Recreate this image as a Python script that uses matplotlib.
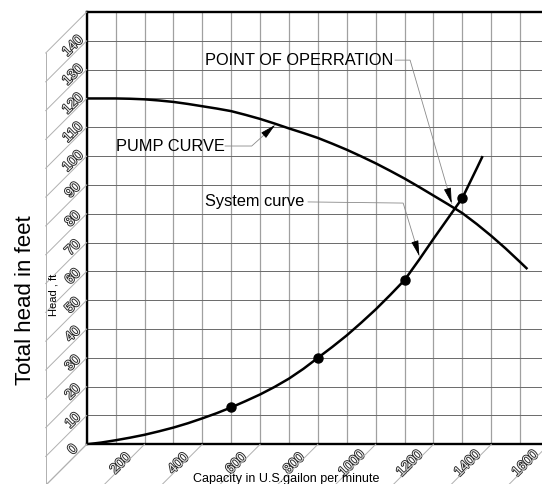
from matplotlib import pyplot as plt
from matplotlib.lines import Line2D
from matplotlib.patches import FancyArrowPatch
from matplotlib.transforms import IdentityTransform
import matplotlib.patheffects as pe

plt.rcParams['font.family'] = ['Liberation Sans', 'DejaVu Sans']

# pump curve (gpm, ft)
pump_q = [0, 50, 100, 150, 200, 250, 300, 350, 400, 450, 500, 550, 600, 650, 700, 750, 800,
          850, 900, 950, 1000, 1050, 1100, 1150, 1200, 1250, 1300, 1350, 1400, 1450, 1500, 1525]
pump_h = [120, 120, 120, 119.9, 119.7, 119.3, 118.8, 118.1, 117.3, 116.5, 115.6, 114.3, 112.9, 111.3,
          109.6, 108.0, 106.3, 104.3, 102.2, 99.9, 97.5, 94.9, 92.2, 89.3, 86.3, 83.3, 80.2, 76.4,
          72.3, 67.9, 63.2, 60.8]

# system curve
sys_q = [0, 50, 100, 150, 200, 250, 300, 350, 400, 450, 500, 550, 600, 650, 700, 750, 800,
         850, 900, 950, 1000, 1050, 1100, 1150, 1200, 1250, 1300, 1350, 1370]
sys_h = [0, 0.6, 1.4, 2.3, 3.3, 4.5, 5.8, 7.3, 9.0, 10.8, 12.8, 15.0, 17.3, 19.9, 22.8, 26.2, 30.0,
         33.8, 37.8, 42.2, 46.8, 51.8, 57.0, 64.0, 71.3, 78.4, 85.5, 95.8, 100]

# measured points on the system curve
pt_q = [500, 800, 1100, 1300]
pt_h = [12.8, 30.0, 57.0, 85.5]

x_labels = [200, 400, 600, 800, 1000, 1200, 1400, 1600]
y_labels = list(range(0, 150, 10))

fig = plt.figure(figsize=(5.42, 4.84), dpi=100)
ax = fig.add_axes([86.7 / 542, 39.7 / 484, 462.4 / 542, 432.3 / 484])
ax.set_xlim(0, 1600)
ax.set_ylim(0, 150)

for q in range(0, 1601, 100):
    ax.axvline(q, color='#a0a0a0', lw=0.9, zorder=1)
for h in range(0, 151, 10):
    ax.axhline(h, color='#6a6a6a', lw=0.7, zorder=1)
ax.set_xticks([])
ax.set_yticks([])
for s in ['left', 'top', 'bottom']:
    ax.spines[s].set_linewidth(1.7)
ax.spines['right'].set_visible(False)

ax.plot(pump_q, pump_h, color='black', lw=1.8, zorder=3, solid_capstyle='butt')
ax.plot(sys_q, sys_h, color='black', lw=1.8, zorder=3, solid_capstyle='butt')
ax.plot(pt_q, pt_h, 'o', color='black', ms=6.5, zorder=4)

# slanted guide lines that carry the tick labels
fig.canvas.draw()
grey = '#b0b0b0'
for h in range(0, 151, 10):
    x0, y0 = ax.transData.transform((0, h))
    fig.add_artist(Line2D([x0, x0 - 41], [y0, y0 - 41], color=grey, lw=0.7, transform=IdentityTransform()))
x0, ytop = ax.transData.transform((0, 150))
fig.add_artist(Line2D([x0 - 41, x0 - 41], [ytop - 41, 0], color=grey, lw=0.7, transform=IdentityTransform()))
for q in [0] + x_labels:
    x0, y0 = ax.transData.transform((q, 0))
    fig.add_artist(Line2D([x0, x0 - 45], [y0, y0 - 45], color=grey, lw=0.7, transform=IdentityTransform()))

hollow = [pe.withStroke(linewidth=1.3, foreground='#262626')]
for h in y_labels:
    ax.annotate(str(h), xy=(0, h), xytext=(-14, -5), textcoords='offset pixels',
                rotation=45, rotation_mode='anchor', ha='center', va='center',
                fontsize=10, color='#f2f2f2', path_effects=hollow, annotation_clip=False)
for q in x_labels:
    ax.annotate(str(q), xy=(q, 0), xytext=(-24, -19), textcoords='offset pixels',
                rotation=45, rotation_mode='anchor', ha='center', va='center',
                fontsize=10, color='#f2f2f2', path_effects=hollow, annotation_clip=False)

fig.text(26 / 542, 1 - 300 / 484, 'Total head in feet', rotation=90, ha='center', va='center', fontsize=16)
fig.text(53 / 542, 1 - 295 / 484, 'Head , ft', rotation=90, ha='center', va='center', fontsize=8)
fig.text(286 / 542, 1 - 479 / 484, 'Capacity in U.S.gailon per minute', ha='center', va='center', fontsize=9)


def callout(text, text_pos, text_end, corner, tip):
    """Label with a thin grey leader and a small black arrow head."""
    ax.text(text_pos[0], text_pos[1], text, ha='left', va='center', fontsize=11.8, zorder=5)
    ax.plot([text_end[0], corner[0], tip[0]], [text_end[1], corner[1], tip[1]],
            color='#8a8a8a', lw=0.6, zorder=2)
    c = ax.transData.transform(corner)
    t = ax.transData.transform(tip)
    d = ((c[0] - t[0]) ** 2 + (c[1] - t[1]) ** 2) ** 0.5
    f = 13 / d
    back = (tip[0] + (corner[0] - tip[0]) * f, tip[1] + (corner[1] - tip[1]) * f)
    ax.add_patch(FancyArrowPatch(back, tip, arrowstyle='-|>,head_length=0.95,head_width=0.22',
                                 mutation_scale=10, color='black', lw=0.6,
                                 shrinkA=0, shrinkB=0, zorder=5))


callout('POINT OF OPERRATION', (410, 133.3), (1067, 133.3), (1119, 133.3), (1263, 83.6))
callout('PUMP CURVE', (101, 103.5), (479, 103.5), (571, 103.5), (652, 110.8))
callout('System curve', (410, 84.1), (766, 84.1), (1095, 83.7), (1151, 65.3))

fig.savefig('out.png', dpi=100)
